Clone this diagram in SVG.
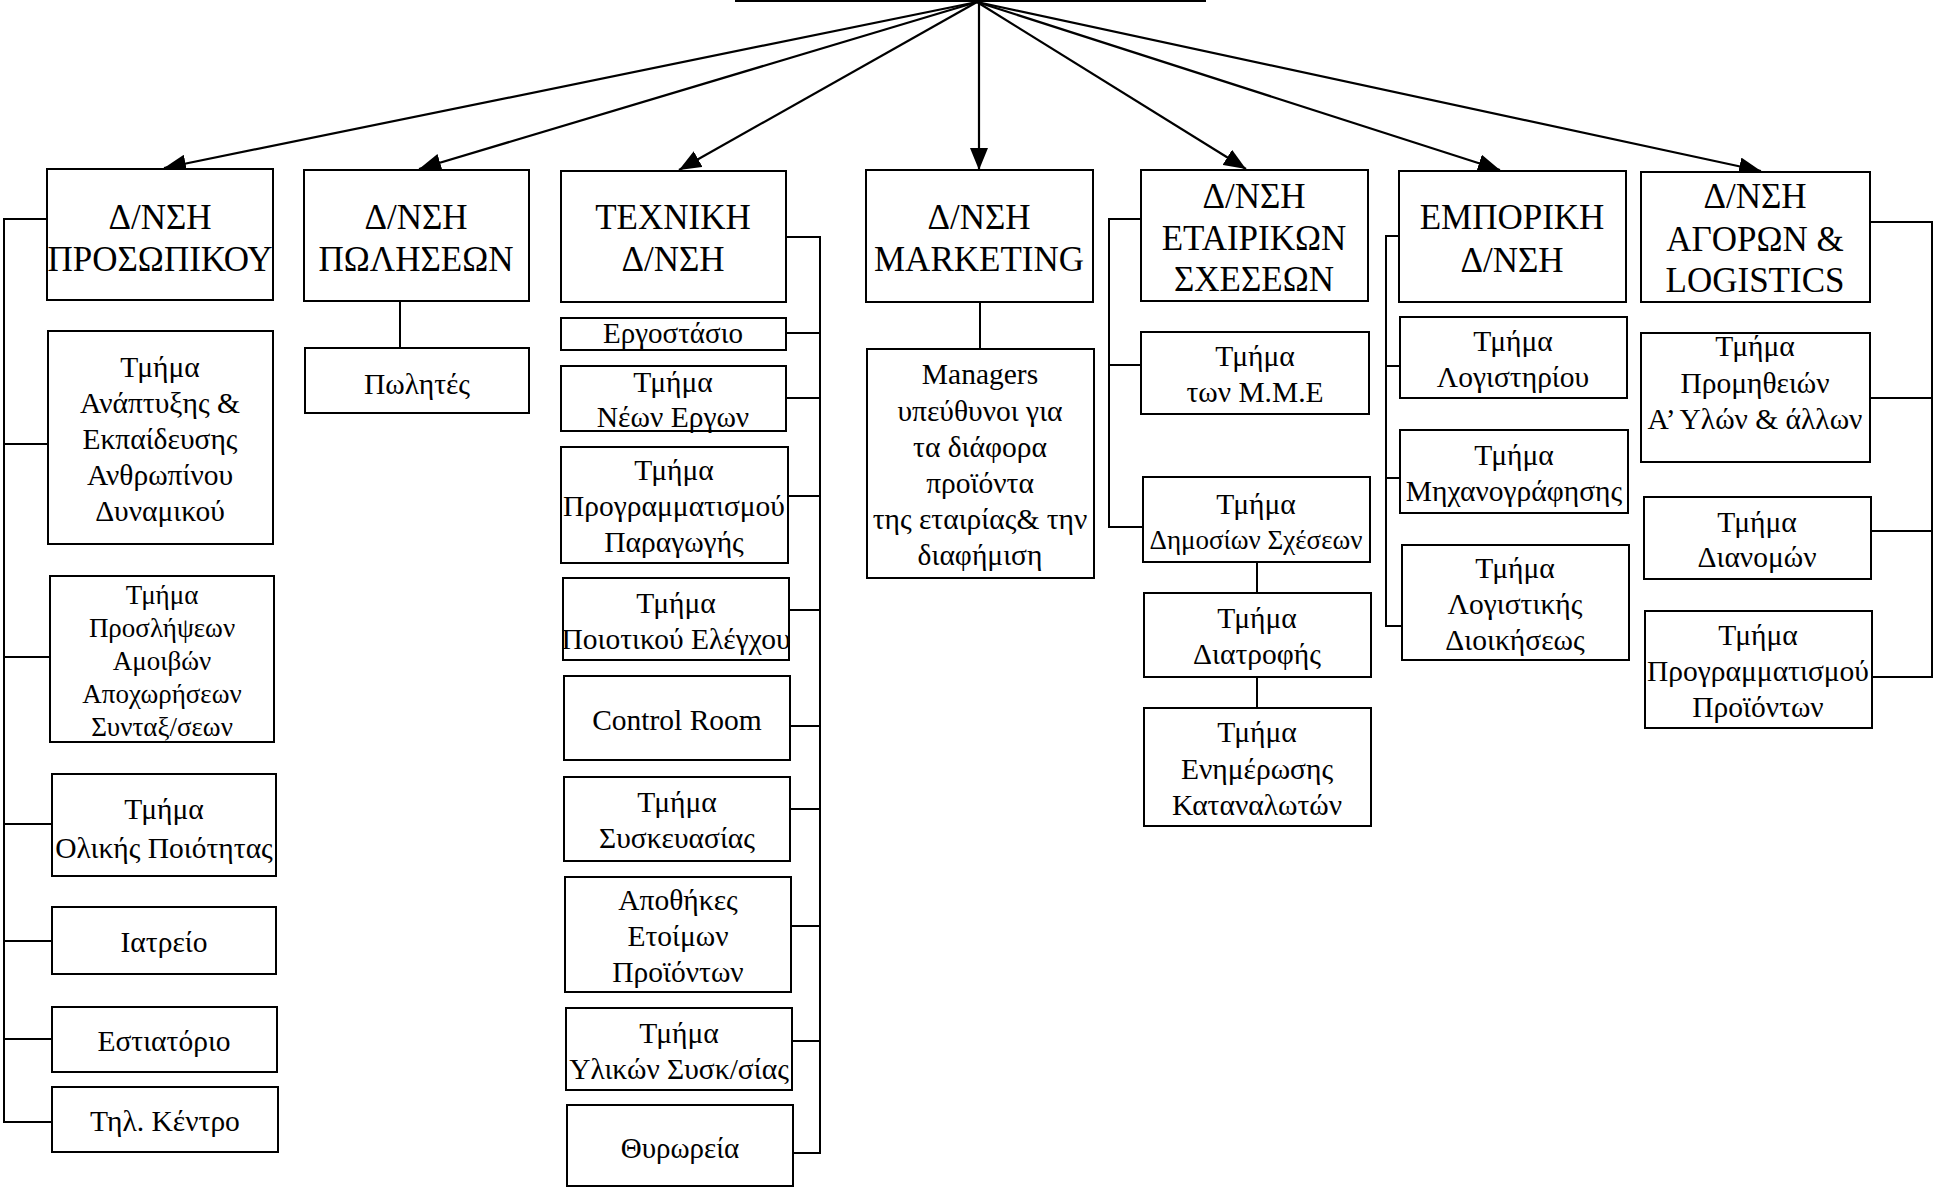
<svg xmlns="http://www.w3.org/2000/svg" width="1934" height="1187" viewBox="0 0 1934 1187">
<style>
.b{fill:#fff;stroke:#000;stroke-width:2}
.c{fill:none;stroke:#000;stroke-width:2}
.a{fill:none;stroke:#000;stroke-width:2.2;marker-end:url(#ah)}
text{font-family:"Liberation Serif","Times New Roman",serif;fill:#000;text-anchor:middle}
.h{font-size:35px}
.t{font-size:29.5px}
.s{font-size:27px}
.m{font-size:29px}
</style>
<defs>
<marker id="ah" markerUnits="userSpaceOnUse" markerWidth="22" markerHeight="18" viewBox="0 0 22 18" refX="22" refY="9" orient="auto"><path d="M0,0 L22,9 L0,18 z" fill="#000"/></marker>
</defs>
<rect width="1934" height="1187" fill="#fff"/>

<g id="connectors">
<line class="a" x1="977" y1="2" x2="164" y2="168"/>
<line class="a" x1="977" y1="2" x2="419" y2="169"/>
<line class="a" x1="977" y1="2" x2="679" y2="170"/>
<line class="a" x1="979" y1="2" x2="979" y2="170"/>
<line class="a" x1="977" y1="2" x2="1246" y2="169"/>
<line class="a" x1="977" y1="2" x2="1500" y2="170"/>
<line class="a" x1="977" y1="2" x2="1761" y2="171"/>
<path class="c" d="M47,219 H4 V1122 H52 M4,444 H48 M4,657 H50 M4,824 H52 M4,941 H52 M4,1039 H52"/>
<path class="c" d="M400,301 V348"/>
<path class="c" d="M786,237 H820 V1153 H793 M786,333 H820 M786,398 H820 M788,496 H820 M789,610 H820 M790,726 H820 M790,809 H820 M791,926 H820 M792,1041 H820"/>
<path class="c" d="M980,302 V349"/>
<path class="c" d="M1141,219 H1109 V527 H1143 M1109,365 H1141 M1257,562 V593 M1257,677 V708"/>
<path class="c" d="M1399,236 H1386 V626 H1402 M1386,366 H1400 M1386,478 H1400"/>
<path class="c" d="M1870,222 H1932 V677 H1872 M1870,398 H1932 M1871,531 H1932"/>
</g>

<g id="root"><rect class="b" x="736" y="-60" width="469" height="61"/></g>

<g id="n-prosopikou"><rect class="b" x="47" y="169" width="226" height="131"/><text class="h" x="160" y="229">Δ/ΝΣΗ</text><text class="h" x="160" y="271">ΠΡΟΣΩΠΙΚΟΥ</text></g>
<g id="n-anaptyxis"><rect class="b" x="48" y="331" width="225" height="213"/><text class="t" x="160" y="377">Τμήμα</text><text class="t" x="160" y="413">Ανάπτυξης &amp;</text><text class="t" x="160" y="449">Εκπαίδευσης</text><text class="t" x="160" y="485">Ανθρωπίνου</text><text class="t" x="160" y="521">Δυναμικού</text></g>
<g id="n-proslipseon"><rect class="b" x="50" y="576" width="224" height="166"/><text class="s" x="162" y="604">Τμήμα</text><text class="s" x="162" y="637">Προσλήψεων</text><text class="s" x="162" y="670">Αμοιβών</text><text class="s" x="162" y="703">Αποχωρήσεων</text><text class="s" x="162" y="736">Συνταξ/σεων</text></g>
<g id="n-olikis"><rect class="b" x="52" y="774" width="224" height="102"/><text class="t" x="164" y="819">Τμήμα</text><text class="t" x="164" y="858">Ολικής Ποιότητας</text></g>
<g id="n-iatreio"><rect class="b" x="52" y="907" width="224" height="67"/><text class="t" x="164" y="952">Ιατρείο</text></g>
<g id="n-estiatorio"><rect class="b" x="52" y="1007" width="225" height="65"/><text class="t" x="164" y="1051">Εστιατόριο</text></g>
<g id="n-til"><rect class="b" x="52" y="1087" width="226" height="65"/><text class="t" x="165" y="1131">Τηλ. Κέντρο</text></g>

<g id="n-poliseon"><rect class="b" x="304" y="170" width="225" height="131"/><text class="h" x="416" y="229">Δ/ΝΣΗ</text><text class="h" x="416" y="271">ΠΩΛΗΣΕΩΝ</text></g>
<g id="n-polites"><rect class="b" x="305" y="348" width="224" height="65"/><text class="t" x="417" y="394">Πωλητές</text></g>

<g id="n-texniki"><rect class="b" x="561" y="171" width="225" height="131"/><text class="h" x="673" y="229">ΤΕΧΝΙΚΗ</text><text class="h" x="673" y="271">Δ/ΝΣΗ</text></g>
<g id="n-ergostasio"><rect class="b" x="561" y="318" width="225" height="32"/><text class="m" x="673" y="343">Εργοστάσιο</text></g>
<g id="n-neon"><rect class="b" x="561" y="366" width="225" height="65"/><text class="t" x="673" y="392">Τμήμα</text><text class="t" x="673" y="427">Νέων Εργων</text></g>
<g id="n-programmatismou"><rect class="b" x="561" y="447" width="227" height="116"/><text class="t" x="674" y="480">Τμήμα</text><text class="t" x="674" y="516">Προγραμματισμού</text><text class="t" x="674" y="552">Παραγωγής</text></g>
<g id="n-poiotikou"><rect class="b" x="563" y="578" width="226" height="82"/><text class="t" x="676" y="613">Τμήμα</text><text class="t" x="676" y="649">Ποιοτικού Ελέγχου</text></g>
<g id="n-control"><rect class="b" x="564" y="676" width="226" height="84"/><text class="t" x="677" y="730">Control Room</text></g>
<g id="n-syskeuasias"><rect class="b" x="564" y="777" width="226" height="84"/><text class="t" x="677" y="812">Τμήμα</text><text class="t" x="677" y="848">Συσκευασίας</text></g>
<g id="n-apothikes"><rect class="b" x="565" y="877" width="226" height="115"/><text class="t" x="678" y="910">Αποθήκες</text><text class="t" x="678" y="946">Ετοίμων</text><text class="t" x="678" y="982">Προϊόντων</text></g>
<g id="n-ylikon"><rect class="b" x="566" y="1008" width="226" height="82"/><text class="t" x="679" y="1043">Τμήμα</text><text class="t" x="679" y="1079">Υλικών Συσκ/σίας</text></g>
<g id="n-thyroreia"><rect class="b" x="567" y="1105" width="226" height="81"/><text class="m" x="680" y="1158">Θυρωρεία</text></g>

<g id="n-marketing"><rect class="b" x="866" y="170" width="227" height="132"/><text class="h" x="979" y="229">Δ/ΝΣΗ</text><text class="h" x="979" y="271">MARKETING</text></g>
<g id="n-managers"><rect class="b" x="867" y="349" width="227" height="229"/><text class="t" x="980" y="384">Managers</text><text class="t" x="980" y="421">υπεύθυνοι για</text><text class="t" x="980" y="457">τα διάφορα</text><text class="t" x="980" y="493">προϊόντα</text><text class="t" x="980" y="529">της εταιρίας&amp; την</text><text class="t" x="980" y="565">διαφήμιση</text></g>

<g id="n-etairikon"><rect class="b" x="1141" y="170" width="227" height="131"/><text class="h" x="1254" y="208">Δ/ΝΣΗ</text><text class="h" x="1254" y="250">ΕΤΑΙΡΙΚΩΝ</text><text class="h" x="1254" y="291">ΣΧΕΣΕΩΝ</text></g>
<g id="n-mme"><rect class="b" x="1141" y="332" width="228" height="82"/><text class="t" x="1255" y="366">Τμήμα</text><text class="t" x="1255" y="402">των Μ.Μ.Ε</text></g>
<g id="n-dimosion"><rect class="b" x="1143" y="477" width="227" height="85"/><text class="t" x="1256" y="514">Τμήμα</text><text class="s" x="1256" y="549">Δημοσίων Σχέσεων</text></g>
<g id="n-diatrofis"><rect class="b" x="1144" y="593" width="227" height="84"/><text class="t" x="1257" y="628">Τμήμα</text><text class="t" x="1257" y="664">Διατροφής</text></g>
<g id="n-enimerosis"><rect class="b" x="1144" y="708" width="227" height="118"/><text class="t" x="1257" y="742">Τμήμα</text><text class="t" x="1257" y="779">Ενημέρωσης</text><text class="t" x="1257" y="815">Καταναλωτών</text></g>

<g id="n-emporiki"><rect class="b" x="1399" y="171" width="227" height="131"/><text class="h" x="1512" y="229">ΕΜΠΟΡΙΚΗ</text><text class="h" x="1512" y="272">Δ/ΝΣΗ</text></g>
<g id="n-logistiriou"><rect class="b" x="1400" y="317" width="227" height="81"/><text class="t" x="1513" y="351">Τμήμα</text><text class="t" x="1513" y="387">Λογιστηρίου</text></g>
<g id="n-mixanografisis"><rect class="b" x="1400" y="430" width="228" height="83"/><text class="t" x="1514" y="465">Τμήμα</text><text class="t" x="1514" y="501">Μηχανογράφησης</text></g>
<g id="n-logistikis"><rect class="b" x="1402" y="545" width="227" height="115"/><text class="t" x="1515" y="578">Τμήμα</text><text class="t" x="1515" y="614">Λογιστικής</text><text class="t" x="1515" y="650">Διοικήσεως</text></g>

<g id="n-agoron"><rect class="b" x="1641" y="172" width="229" height="130"/><text class="h" x="1755" y="208">Δ/ΝΣΗ</text><text class="h" x="1755" y="251">ΑΓΟΡΩΝ &amp;</text><text class="h" x="1755" y="292">LOGISTICS</text></g>
<g id="n-promitheion"><rect class="b" x="1641" y="333" width="229" height="129"/><text class="t" x="1755" y="356">Τμήμα</text><text class="t" x="1755" y="393">Προμηθειών</text><text class="t" x="1755" y="429">Α’ Υλών &amp; άλλων</text></g>
<g id="n-dianomon"><rect class="b" x="1644" y="497" width="227" height="82"/><text class="t" x="1757" y="532">Τμήμα</text><text class="t" x="1757" y="567">Διανομών</text></g>
<g id="n-programmatismou-proionton"><rect class="b" x="1645" y="611" width="227" height="117"/><text class="t" x="1758" y="645">Τμήμα</text><text class="t" x="1758" y="681">Προγραμματισμού</text><text class="t" x="1758" y="717">Προϊόντων</text></g>
</svg>
